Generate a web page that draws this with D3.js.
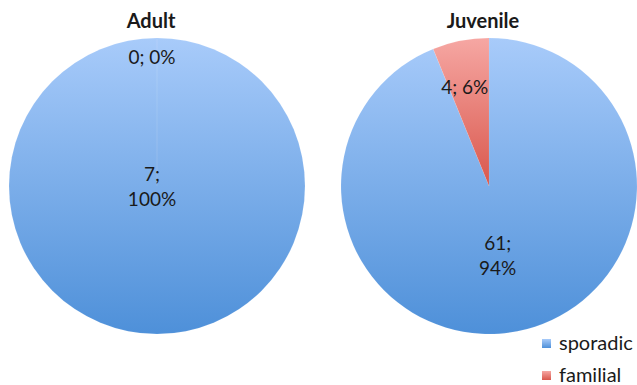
<!DOCTYPE html>
<html>
<head>
<meta charset="utf-8">
<script src="https://cdn.jsdelivr.net/npm/d3@7"></script>
<style>
  body { margin: 0; background: #fff; }
  text { font-family: Lato, "Open Sans", sans-serif; fill: #1a1a1a; }
</style>
</head>
<body>
<svg id="chart" width="637" height="385"></svg>
<script>
// chart data
const groups = ["Adult", "Juvenile"];
const categories = ["sporadic", "familial"];
const adultValues = [7, 0];
const juvenileValues = [61, 4];

const width = 637, height = 385;
const radius = 148;
const centers = [157, 489];   // pie centre x for each group
const centerY = 186;

const svg = d3.select("#chart");
const defs = svg.append("defs");

// vertical gradients like the spreadsheet fill
const gradStops = {
    sporadic: ["#a8cbfa", "#4e90d9"],
    familial: ["#f6a7a3", "#d9574c"]
};
categories.forEach(c => {
    const g = defs.append("linearGradient")
        .attr("id", `grad-${c}`)
        .attr("x1", 0).attr("y1", 0).attr("x2", 0).attr("y2", 1);
    g.append("stop").attr("offset", "0%").attr("stop-color", gradStops[c][0]);
    g.append("stop").attr("offset", "100%").attr("stop-color", gradStops[c][1]);
});

// blue gradient runs over the whole circle
const circleGrad = defs.append("linearGradient")
    .attr("id", "grad-circle")
    .attr("gradientUnits", "userSpaceOnUse")
    .attr("x1", 0).attr("y1", -radius).attr("x2", 0).attr("y2", radius);
circleGrad.append("stop").attr("offset", "0%").attr("stop-color", gradStops.sporadic[0]);
circleGrad.append("stop").attr("offset", "100%").attr("stop-color", gradStops.sporadic[1]);

const pie = d3.pie().sort(null).value(d => d.value);
const arc = d3.arc().innerRadius(0).outerRadius(radius);

[adultValues, juvenileValues].forEach((values, i) => {
    const total = d3.sum(values);
    const data = categories.map((c, j) => ({ cat: c, value: values[j] }));
    const g = svg.append("g")
        .attr("transform", `translate(${centers[i]},${centerY})`);

    // title
    g.append("text")
        .attr("x", -6)
        .attr("y", -radius - 10)
        .attr("text-anchor", "middle")
        .style("font-size", "20px")
        .style("font-weight", "bold")
        .text(groups[i]);

    const arcs = pie(data);

    g.selectAll("path.slice")
        .data(arcs)
        .join("path")
        .attr("class", "slice")
        .attr("d", arc)
        .attr("fill", d => d.data.cat === "sporadic" ? "url(#grad-circle)" : "url(#grad-familial)")
        .attr("stroke", "rgba(255,255,255,0.15)")
        .attr("stroke-width", 0.5);

    // data labels "value; percent"
    arcs.forEach(d => {
        const frac = d.data.value / total;
        let lr;
        if (frac === 1) lr = 0;
        else if (frac === 0) lr = radius * 0.87;
        else lr = radius * (frac > 0.5 ? 0.48 : 0.68);
        const labelArc = d3.arc().innerRadius(lr).outerRadius(lr);
        const [x, y] = labelArc.centroid(d);
        const pct = Math.round(frac * 100) + "%";
        const lines = (frac > 0.5) ? [d.data.value + ";", pct] : [d.data.value + "; " + pct];
        const t = g.append("text")
            .attr("text-anchor", "middle")
            .style("font-size", "19px");
        lines.forEach((ln, k) => {
            t.append("tspan")
                .attr("x", x - 5)
                .attr("y", y + 7 + (k - (lines.length - 1) / 2) * 25)
                .text(ln);
        });
    });
});

// legend
const legend = svg.append("g").attr("transform", "translate(542,343)");
categories.forEach((c, j) => {
    const row = legend.append("g").attr("transform", `translate(0,${j * 32})`);
    row.append("rect")
        .attr("x", 0).attr("y", -4)
        .attr("width", 9).attr("height", 9)
        .attr("fill", `url(#grad-${c})`);
    row.append("text")
        .attr("x", 17)
        .attr("y", 7)
        .style("font-size", "20px")
        .text(c);
});
</script>
</body>
</html>
